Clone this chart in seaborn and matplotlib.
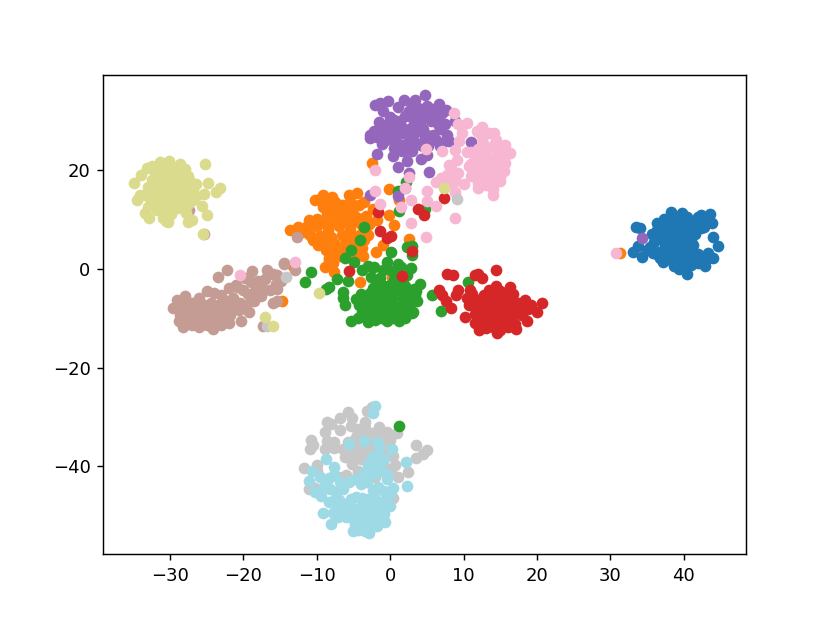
import matplotlib
matplotlib.use("Agg")
import matplotlib.pyplot as plt
import seaborn as sns

blue_x = [38.2,33.5,34.1,33.1,33.7,34.3,35.4,36.3,35.7,37.2,40.5,42.9,44,44.6,44,43.6,42.3,39.7,40.9,43.8,
          37.3,38.5,39.5,40.5,41.5,37,38,39,40,41,36.5,37.5,38.5,39.5,40.5,41.5,42.5,43,42,43,36,37,38,39,40,41,
          42,43.3,37.8,38.8,39.8,40.8,41.8,39,40,41,38,42.6,36.6,35,40.2,39.3,41,42,37.5,36.8,
          38.8,39.6,40.4,37.6,39.2,40,38.4,39,40.6,39.6,38.2,40.2,41.2,38.6,39.4,40.6,36.4,36.9,41.4,42.4,
          37.6,38.3,35.8,36.5,42.8,43.4,42.2,41.8]
blue_y = [11.6,8.5,8.3,3.5,4.7,2.5,4.5,9.3,7.1,1.5,-1,0.7,2.2,4.7,6.5,11.2,11,11.3,9.8,9.3,
          10.2,10.8,10,10.5,9,8.5,9.2,8.6,9.4,8,7,7.6,6.8,7.5,6.6,7,9.6,10.2,10.6,1.8,5.5,6,5.2,5.8,5,5.6,
          3,3.2,3.8,3.2,4,3.4,2.8,2.2,2,0.8,2.6,1.6,3.4,3.8,0.2,1,1.2,1.2,4.6,2.2,
          8,8.4,7.4,5.8,6.2,5.2,4.2,4.6,4.4,3,1.8,1.4,4.8,0.6,0,1.4,8,6.6,8.2,8.4,
          9.8,7.2,3.2,2.8,8.6,9.8,1.4,2.2]

orange_x = [-4.5,-5.6,-0.1,-3.5,-2.4,-0.2,0.5,-3,-1,-1.9,2.5,-4.1,0.2,-1.1,-8.9,-7.7,-8.3,-13.3,-13.6,-12.5,-10.2,-9.1,-7.9,
            1.2,-14.8,31.3,-2.5,-12.7,-3.7,-4.4,
            -11.5,-11,-10.5,-10,-9.5,-9,-8.5,-8,-7.5,-7,-6.5,-6,-5.5,-5,-4.5,-4,-3.5,-11,-10,-9,-8,-7,-6,-5,-4,-3,
            -8.6,-7.6,-6.6,-5.6,-4.6,-3.6,-9.2,-8.2,-7.2,-6.2,-5.2,-4.2,-9.5,-8.5,-7.5,-6.5,-5.5,-4.8,-10.8,-9.8,-8.8,-7.8,
            -6.8,-5.8,-4.8,-3.8,-12,-11.2,-7,-6,-5.2,-8.4,-7.8,-3.3,-2.8,-1.8]
orange_y = [15.5,15,16.2,13.6,12.2,11,8.9,6.9,4.9,3.4,6.1,-2.6,-1.6,-3.4,0.4,-0.6,2.2,0.6,7.9,8.5,13.9,15,14.7,
            14,-6.4,3.2,21.6,8,2.6,3,
            8.6,7.2,5.9,8.8,6.6,5.4,8,6.4,5,8.7,6.8,5.6,8.2,6.2,4.8,7.2,5.8,10,10.2,9.6,9.4,10,9.8,9.6,9.2,8.9,
            11.2,11.6,11,11.4,10.6,10.4,12.6,12.8,12.2,12.6,12,13,14.1,14,13.6,13,13.8,12.7,6.6,4.9,3.8,4,
            3.6,3.2,4.6,4.2,7.6,7.9,2.6,5.2,6.8,1.8,1.2,10.8,9.4,10]

green_x = [-3.6,-4.1,-5.4,-6.2,-4.9,-10.8,-11.6,-7.2,-5.7,-8.4,-8.7,-6.4,-6.4,-6.1,-5.3,-4.4,-3,0.1,2.3,3,3,2.8,1,-0.4,-3,-3.9,-2.6,
           -1.4,4.1,5.7,6.9,3.1,3.6,3.4,2.2,1.1,1.2,4.8,10.6,
           -4.6,-4,-3.4,-2.8,-2.2,-1.6,-1,-0.4,0.2,0.8,1.4,2,2.6,3.2,
           -4.2,-3.5,-2.7,-2,-1.2,-0.5,0.3,1,1.8,2.5,
           -3.8,-3.2,-2.4,-1.6,-0.8,0,0.8,1.6,2.4,3,
           -2.8,-2,-1.2,-0.4,0.4,1.2,2,0,1,2,3.5,-2.4,-1.6,-0.8,0.5,1.7,1.2,0.2,-1,-2.2,2.3,1.5]
green_y = [8.6,5.9,3.9,2.3,1.5,-0.6,-2.6,-2,-2.4,-3.7,-4,-4.7,-5.9,-7.3,-10.6,-10,-10.7,3.4,4.5,4.7,2.8,0.2,1,1.5,0.6,-0.3,-1.7,
           -1.9,-3,-5.2,-8.5,-8.7,-6.4,-5.3,17.7,15.9,11.7,12.2,-2.6,
           -6,-5,-5.8,-4.8,-6.2,-5,-6,-4.6,-5.8,-4.4,-5.4,-4.2,-5.6,-4,
           -7.4,-8,-7,-7.8,-7.2,-8,-7.2,-7.8,-7,-7.6,
           -8.8,-9.4,-8.8,-9.6,-8.8,-9.6,-9,-9.6,-8.8,-9,
           -9.8,-10.4,-10,-10.5,-10,-10.6,-10,-3.2,-2.8,-3.4,-4.4,-3.8,-3.2,-3.4,-2.2,-2,-0.8,-0.4,-0.2,0.4,-1.2,0.4]
green_top_x = [1.2]
green_top_y = [-31.8]

red_x = [14.4,7.7,8.6,11.6,12.5,12,6.6,7,7.6,8.3,9.3,9,16.3,13.4,10.9,10.2,20.7,20,18.7,17.1,14.6,12.1,11.6,
         -1.6,-1.4,0.1,3,-5.6,1.6,3.8,4.6,7.4,-0.4,
         10.4,11.2,12,12.8,13.6,14.4,15.2,16,16.8,17.6,18.4,19.2,
         10.8,11.6,12.4,13.2,14,14.8,15.6,16.4,17.2,18,18.8,
         11.5,12.3,13.1,13.9,14.7,15.5,16.3,17.1,17.9,12.5,13.3,14.1,14.9,15.7,16.5,13,14,15,16,14,15,16.2,13.5,14.4,
         12.8,13.6,14.4,15.2,16,16.8,13.2,14,14.8,15.6,16.4,13,13.8,14.6,15.4,16.2,17,12.6,13.4,14.2,15,15.8]
red_y = [-0.3,-1,-1.2,-1.2,-1.8,-1,-4.3,-5.3,-6.4,-7.9,-4.3,-5.2,-3.6,-4.3,-4.3,-9.8,-6.8,-8.7,-10.6,-12.2,-12.9,-12.4,-11,
         11.6,7.8,6.7,3.7,-0.5,-1.4,12.2,11,14.5,6.3,
         -5.8,-5,-6.2,-5.2,-6,-5.4,-4.8,-5.6,-5,-6.8,-6.2,-7.4,
         -7.2,-7.6,-7.8,-7.2,-7.8,-7,-7.6,-7.2,-7.8,-7.4,-8.2,
         -9.2,-9,-9.6,-9,-9.6,-9,-9.6,-9,-9.4,-10.6,-10.6,-11,-10.6,-11,-10.8,-12,-11.8,-12.4,-11.8,-5.2,-4.4,-6.6,-6.8,-3.4,
         -8.4,-8.6,-8.2,-8.4,-8.2,-8.4,-10,-10.2,-9.8,-10.2,-10,-11.4,-11.4,-11.6,-11.4,-11.6,-11.2,-6.8,-6.6,-7,-6.6,-6.4]

purple_x = [4.8,-1.4,-0.3,1.9,3.4,6.7,7.6,-2.7,-1.1,-1.8,0.4,1,2.3,4.2,5.3,2.6,11,8.9,7.8,6.8,1.1,2,-2.7,34.3,
            -2,-1,0,1,2,3,4,5,6,7,-1.5,-0.5,0.5,1.5,2.5,3.5,4.5,5.5,6.5,7.5,
            -2.2,-1.2,-0.2,0.8,1.8,2.8,3.8,4.8,5.8,6.8,-1.8,0.2,1.2,2.2,3.2,4.2,5.2,6.2,7,
            -0.6,1.6,3,4.5,5,0.9,2,0.5,-0.6,-1.5,-2.8,0.6,8,
            2.6,3.8,4.8,5.8,6.6,1.4,3.2,4.4,5.4,6.4,0.2,2,2.8,3.6,4.8]
purple_y = [35.2,33.7,34,34.3,34.2,33.5,32.3,27.2,25.4,23.4,23,20.7,22,22.4,19.6,19.5,25.8,30,27.2,24.9,14.9,16.4,15,6.2,
            33.2,32,30.8,32.8,31,33.2,31.5,33,31,31.6,29.8,29.2,30.2,29,31,29.6,28.4,30,29.4,29.4,
            27.9,28,27.4,27.6,27.5,27,28,27.4,27.2,28.4,26.8,26.6,25.4,25.4,26,25.2,25,26.2,25.6,
            28.7,24,24,25,23.2,25,24.2,24.6,26.2,28,26.5,26.2,26,
            32,32.6,32,32.4,32.8,30,30.2,30.4,31.4,30.2,28.4,28.2,28.6,28.8,26.6]

brown_x = [-14.4,-12.7,-14.5,-22.2,-23.4,-28.2,-24.2,-20.3,-17.3,-15.4,-15.4,-19.2,-29.6,-25.4,-27.4,-12.9,
           -29,-28,-27,-26,-25,-24,-23,-22,-21,-20,-19,-18,-17,-16,
           -29.2,-28.4,-27.4,-26.4,-25.4,-24.4,-23.4,-22.4,-21.4,-20.4,-19.4,-18.4,-17.4,
           -28.6,-27.6,-26.6,-25.6,-24.6,-23.6,-22.6,-21.6,-20.6,-19.6,-18.6,-17.6,-16.4,-15.6,
           -28.8,-27.8,-26.8,-25.8,-24.8,-23.8,-22.8,-21.8,-28,-27,-26,-25,-23,-22,-21.5,-20.8,-19.8,-18.8,-16.8,-15.4,-14.9,-16]
brown_y = [1.2,6.5,1.1,-0.2,-1.6,-11.7,-12.2,-10.5,-11.6,-6.4,-4.1,-8.8,-8,7,11.9,-0.2,
           -6.2,-5.4,-6.8,-5.8,-4.4,-4.8,-5.2,-3.8,-3.2,-4.2,-2.6,-2.4,-2,-1,
           -7.8,-8,-8.2,-7.4,-7.2,-6.8,-7.2,-6.4,-5.8,-6.8,-5,-4.4,-3.8,
           -9.4,-9.6,-9,-9.2,-9,-8.6,-8,-8.2,-8.4,-7.2,-6.4,-5.4,-4.2,-3,
           -10.6,-10.6,-10.4,-10.8,-10.2,-10.4,-9.8,-9.4,-7,-11.4,-11.8,-11.4,-11.4,-11,-7.4,-3.6,-1.8,-0.4,-0.2,-1.2,-2.4,-6.8]

pink_x = [12.5,11.8,10.4,9.3,8.7,14.2,12.5,9.8,9.4,8.9,10.4,9.1,8.3,16.3,15.7,14.2,7.7,6.9,6.3,8.4,8.9,10.1,12,14,4.9,7,
          -2.1,2.5,2,-2,-1.4,1.5,2.9,5,5,6.3,2.9,4.9,8.9,-12.9,-20.4,30.7,
          11,12,13,14,15,16,11.5,12.5,13.5,14.5,15.5,11,12,13,14,15,15.6,
          11.5,12.5,13.5,14.5,15.5,11,12,13,14,15,10.8,12,13,14,15,13.4,12.6,14.4,12,14,9.2,8.8,8,7.4]
pink_y = [28.9,28,29.7,29.5,31.7,27.6,26.6,27.6,25.9,24.2,23.8,22.2,20.5,23.6,25.2,25.2,19.1,18.4,17.7,17.4,15.7,17.3,16.4,16.3,
          24.4,24,20.1,18.6,16.4,15.9,13.2,12.5,14,13.7,15.9,12.7,9.3,6.4,10.4,1.5,-1.2,3.2,
          23.8,24.4,24,24.8,24.2,23.6,22.6,23,22.4,23,22.6,21.2,21.6,21,21.8,21,21.6,
          20,20.2,19.8,20.4,19.8,18.8,18.8,18.4,19,18.6,20.8,17.4,17,17.4,17.8,27.6,25.6,26.2,27.8,15,19.4,17.8,21,18]

gray_x = [-2.5,-3.2,-5.8,-5.2,-6.8,-8.6,-8,-3.4,-6.8,-8.9,-1.5,0.9,-10.8,-10.5,-10.9,-8.6,-7.7,-8.9,-7.7,3.5,5,4.5,3.5,2.4,1,0.7,0.4,
          -11.7,-10,-10,-11,-10.2,0.4,-6.1,-5.2,-4.4,-4.5,-3.2,-0.4,-3.9,-14.2,9.1,-16.8,
          -5.4,-4.4,-3.4,-2.4,-1.4,-0.4,-5.8,-4.8,-3.8,-2.8,-1.8,-0.8,0,-6.4,-5.6,-4.6,-3.6,-2.8,-1.6,-0.6,
          -5,-4,-3,-2,-1,0.1,-4.4,-3.2,-2,-7,-6]
gray_y = [-28,-28.9,-29,-30.3,-30.3,-31,-31.5,-31,-32.7,-33,-32,-33.3,-34.6,-35.6,-36.6,-34.8,-35,-36.6,-36.4,-35.6,-36.8,-37.6,-38.4,-41.2,-42.2,-39.8,-38,
          -40.4,-39.8,-41,-44.7,-44.5,-46.5,-38.1,-39.5,-40.9,-33.7,-33.1,-34.4,-37.8,-1.6,14.2,-11.6,
          -31.8,-32.4,-32.2,-33.2,-33.8,-33,-35,-34.4,-34.8,-34.6,-34,-35.2,-34.6,-36.6,-36.4,-36.8,-36.2,-36.8,-37,-36.6,
          -38.4,-38.6,-39,-38.8,-39.2,-40.6,-41.4,-41.8,-42.2,-42.2,-41.8]

khaki_x = [-31.4,-30.1,-28.6,-25.2,-33.1,-34,-27.5,-34.9,-24.8,-23.2,-23.7,-25.4,-34.1,-34.5,-25.7,-25,-33.4,-32.8,-30.2,-27.5,-25.5,
           -32.5,-31.5,-30.5,-29.5,-32,-31,-30,-29,-28,-32.4,-31.4,-30.4,-29.4,-28.4,-27.4,-26.4,-33,-32,-30.8,-29.8,-28.8,-27.8,-26.8,
           -33.4,-32.4,-31.2,-30.2,-29.2,-28.2,-27.2,-26.4,-31.6,-30.6,-29.6,-28.6,-27.6,-26.8,-31.8,-30.8,-29.8,-32.6,-31,-27,-27.8,-30.6,
           -9.7,-17,-16,7.4,-33,-31.9,-29,-27.9,-29.9,-31.3]
khaki_y = [21.8,22,21.3,21.3,20.5,19.1,18.8,17.4,17.4,16.5,15.7,15.2,15,14,12.8,11,11.3,10.4,9.6,9.6,7.2,
           20.8,20.4,20.8,20.4,19.4,19.2,19.6,19.2,20.2,18,18.2,17.8,18,18.2,18,17.2,16.6,16.6,16.4,16.8,16.6,16.4,16,
           15,14.6,15,15.2,14.8,15,14.6,14.8,13.4,13.2,13.6,13.4,13.2,14,12,11.8,12.2,14,10.4,10,11.4,9.8,
           -4.8,-9.7,-11.5,16.5,12.5,13,12.4,12,11.2,16]

cyan_x = [-2,-2.4,-5.6,-3.5,-1.8,-1.5,0.2,-8.7,2.2,2.3,-11,-7.7,-9.5,-9.4,-8.4,-9.2,-8.1,-7.1,-4.4,-2.9,-1.8,-0.7,0,0.4,-0.4,
          -2.5,-1.6,-0.8,-3,-2.2,-1.4,-3.6,-2.8,-2,-1.2,-0.4,-8.4,-7.6,-6.8,-9,-8.2,-7.4,-6.4,-5.6,-4.8,-4,-3.2,-2.4,-1.6,-0.8,0,
          -7.8,-7,-6.2,-5.4,-4.6,-3.8,-3,-2.2,-1.4,-0.6,-7.2,-6.4,-5.6,-4.8,-4,-3.2,-2.4,-1.6,-0.8,-6,-5.2,-4.4,-3.6,-2.8,-2,-1.2,
          -4.8,-4,-3.2,-2.4,-1.6,-0.8,-5,-4.2,-3.4,-2.6,-1.8,-7.8,-8.8,-10.6,-10.2]
cyan_y = [-27.8,-29.2,-35.4,-34.9,-35,-36,-36.6,-38.6,-39.1,-44.1,-42.9,-40.2,-42.2,-46.1,-47.2,-49.4,-51.8,-50.3,-53,-53.6,-52.2,-51.4,-48,-44.5,-42.5,
          -38.2,-37.8,-38.6,-39.8,-39.8,-40.2,-41.4,-41.6,-41.4,-41,-41.6,-42.4,-41.8,-43.2,-44.2,-44.6,-45.2,-44.6,-43.2,-42.6,-43.6,-43.2,-44.8,-44.2,-45,-45.6,
          -47,-46.8,-47.6,-46.6,-46.2,-46.4,-46.6,-46.2,-47.2,-46.6,-48.8,-49.2,-48.4,-48.6,-48.2,-48.6,-48,-48.4,-48.8,-50.4,-50.6,-50,-50.4,-49.8,-50.2,-50,
          -51.8,-52,-51.6,-52,-51.4,-49.6,-53.2,-52.8,-53.2,-52.4,-50.8,-49.4,-43.6,-41,-45.2]

classes = [
    (blue_x, blue_y, "#1f77b4"), (orange_x, orange_y, "#ff7f0e"),
    (green_x, green_y, "#2ca02c"), (red_x, red_y, "#d62728"),
    (purple_x, purple_y, "#9467bd"), (brown_x, brown_y, "#c49c94"),
    (pink_x, pink_y, "#f7b6d2"), (gray_x, gray_y, "#c7c7c7"),
    (khaki_x, khaki_y, "#dbdb8d"), (cyan_x, cyan_y, "#9edae5"),
    (green_top_x, green_top_y, "#2ca02c"),
]

fig, ax = plt.subplots(figsize=(830 / 130, 623 / 130), dpi=130)
fig.subplots_adjust(left=0.1243, right=0.899, bottom=0.11, top=0.88)
for xs, ys, col in classes:
    sns.scatterplot(x=xs, y=ys, color=col, s=42, linewidth=0, ax=ax, legend=False)
ax.set_xlim(-39.1, 48.5)
ax.set_ylim(-57.9, 39.4)
fig.savefig("out.png", dpi=130)
